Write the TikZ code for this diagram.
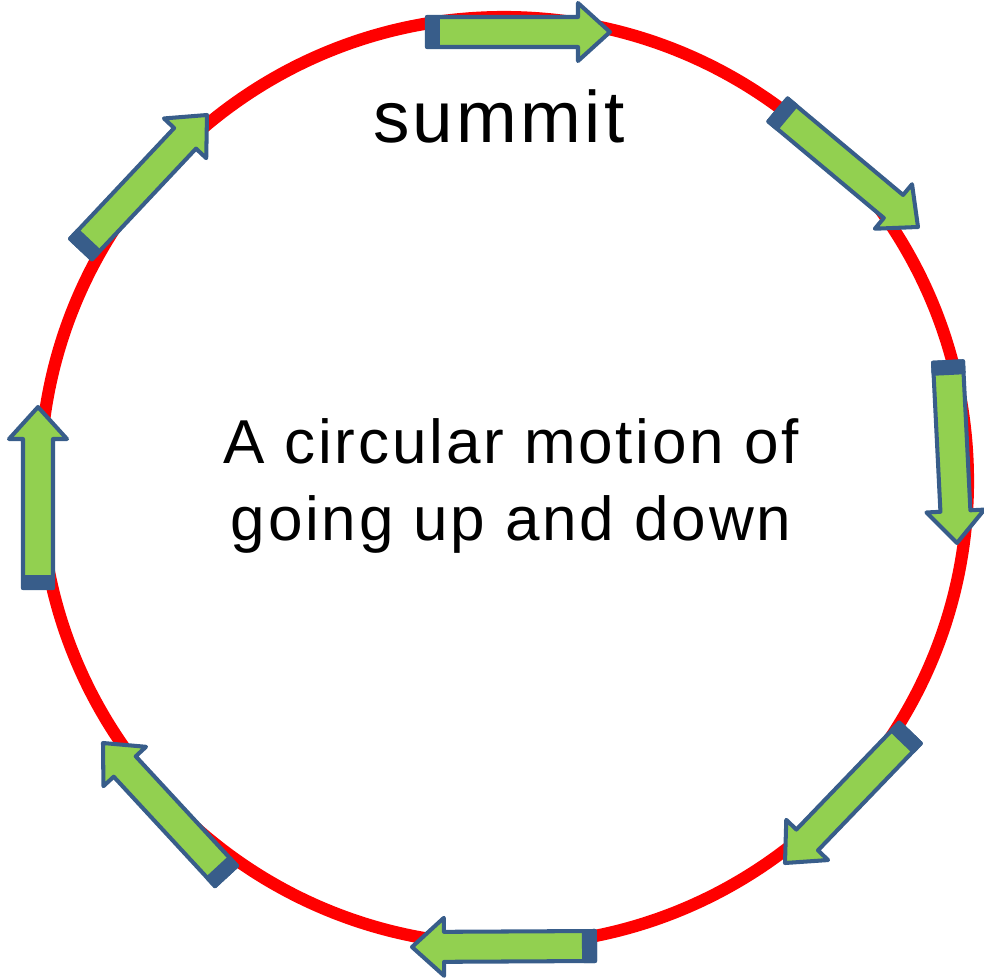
\documentclass[tikz,border=0pt]{standalone}
\usepackage{fontspec}
\setmainfont{Liberation Sans}[LetterSpace=4.5]
\definecolor{ringred}{HTML}{FF0000}
\definecolor{arrowgreen}{HTML}{92D050}
\definecolor{arrowblue}{HTML}{385D8A}
\tikzset{
  ring/.style={draw=ringred, line width=7pt},
  blockarrow/.style={fill=arrowgreen, draw=arrowblue, line width=2.3pt, line join=round},
  tailband/.style={fill=arrowblue, draw=arrowblue, line width=2.3pt, line join=round},
  toptext/.style={font=\fontsize{41.5pt}{50pt}\selectfont, anchor=base, inner sep=0pt},
  motiontext/.style={font=\fontsize{35.3pt}{43.8pt}\selectfont, align=center, anchor=base, inner sep=0pt}
}
\begin{document}
\begin{tikzpicture}[x=0.02cm,y=-0.02cm]
\useasboundingbox (0,0) rectangle (984,980);
\draw[ring] (504,481) circle [radius=9.28cm];

% block arrows: tail x/y, tip x/y
\foreach \tx/\ty/\hx/\hy in {427/32/610/32, 778/110/918/227, 948/362/957/543,
    910/733/785/863, 595/946/412/947, 226/876/103/743, 38/588/38/407, 81/249/207/115}{
  \pgfmathsetmacro\ang{atan2(\ty-\hy,\hx-\tx)}
  \pgfmathsetmacro\len{veclen(\hx-\tx,\hy-\ty)}
  \begin{scope}[shift={(\tx,\ty)}, rotate=\ang]
    \draw[blockarrow] (0,-15) -- (\len-32,-15) -- (\len-32,-29) -- (\len,0)
      -- (\len-32,29) -- (\len-32,15) -- (0,15) -- cycle;
    \draw[tailband] (0,-15) rectangle (11,15);
  \end{scope}
}

\node[toptext] (summit) at (499,143) {summit};
\node[motiontext] (motion) at (511,540) {A circular motion of\\going up and down};
\end{tikzpicture}
\end{document}
